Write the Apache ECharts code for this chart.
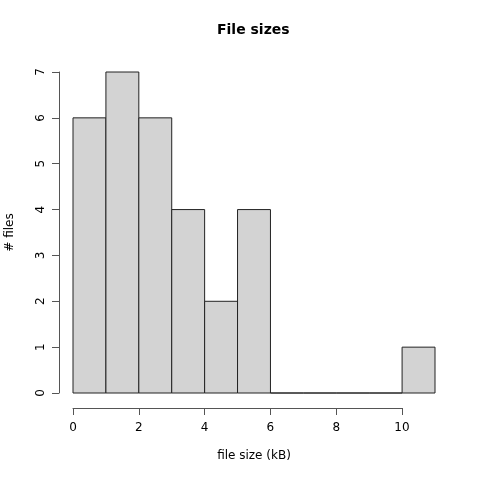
<!DOCTYPE html>
<html>
<head>
<meta charset="utf-8">
<script src="https://cdn.jsdelivr.net/npm/echarts@6/dist/echarts.min.js"></script>
<style>
  html, body { margin: 0; padding: 0; background: #fff; }
  #chart { width: 480px; height: 480px; }
</style>
</head>
<body>
<div id="chart"></div>
<script>
// histogram bins (kB) and counts
const binStarts = [0, 1, 2, 3, 4, 5, 6, 7, 8, 9, 10]
const binEnds = [1, 2, 3, 4, 5, 6, 7, 8, 9, 10, 11]
const counts = [6, 7, 6, 4, 2, 4, 0, 0, 0, 0, 1]

const font = 'DejaVu Sans'
const chart = echarts.init(document.getElementById('chart'))

const histData = binStarts.map((s, i) => [s, binEnds[i], counts[i]])

const axisText = { fontFamily: font, fontSize: 12, color: '#000' }

const option = {
  animation: false,
  backgroundColor: '#fff',
  textStyle: { fontFamily: font },
  title: {
    text: 'File sizes',
    left: 212,
    top: 18,
    textStyle: { fontFamily: font, fontSize: 14, fontWeight: 'bold', color: '#000' }
  },
  grid: [
    // plot area for the bars
    { left: 73, top: 72, width: 362, height: 321, outerBoundsMode: 'none' },
    // detached x axis (R style), only 0..10
    { left: 73, top: 87, width: 329, height: 321, outerBoundsMode: 'none' },
    // detached y axis
    { left: 59, top: 72, width: 376, height: 321, outerBoundsMode: 'none' }
  ],
  xAxis: [
    {
      gridIndex: 0, type: 'value', min: 0, max: 11,
      name: 'file size (kB)',
      nameLocation: 'middle',
      nameGap: 57,
      nameTextStyle: axisText,
      axisLine: { show: false }, axisTick: { show: false },
      axisLabel: { show: false }, splitLine: { show: false }
    },
    {
      gridIndex: 1,
      type: 'value',
      min: 0,
      max: 10,
      interval: 2,
      axisLine: { show: true, lineStyle: { color: '#555', width: 1 } },
      axisTick: { show: true, length: 7, lineStyle: { color: '#555' } },
      axisLabel: Object.assign({ margin: 14 }, axisText),
      splitLine: { show: false }
    },
    { gridIndex: 2, type: 'value', min: 0, max: 1, show: false }
  ],
  yAxis: [
    { gridIndex: 0, type: 'value', min: 0, max: 7, show: false },
    { gridIndex: 1, type: 'value', min: 0, max: 7, show: false },
    {
      gridIndex: 2,
      type: 'value',
      min: 0,
      max: 7,
      interval: 1,
      name: '# files',
      nameLocation: 'middle',
      nameGap: 43,
      nameRotate: 90,
      nameTextStyle: axisText,
      axisLine: { show: true, lineStyle: { color: '#555', width: 1 } },
      axisTick: { show: true, length: 7, lineStyle: { color: '#555' } },
      axisLabel: Object.assign({ rotate: 90, margin: 12 }, axisText),
      splitLine: { show: false }
    }
  ],
  series: [
    {
      type: 'custom',
      xAxisIndex: 0,
      yAxisIndex: 0,
      data: histData,
      renderItem: (params, api) => {
        const p0 = api.coord([api.value(0), 0])
        const p1 = api.coord([api.value(1), api.value(2)])
        return {
          type: 'rect',
          shape: { x: p0[0], y: p1[1], width: p1[0] - p0[0], height: p0[1] - p1[1] },
          style: { fill: '#d3d3d3', stroke: '#222', lineWidth: 1 }
        }
      }
    }
  ]
}

chart.setOption(option)
</script>
</body>
</html>
